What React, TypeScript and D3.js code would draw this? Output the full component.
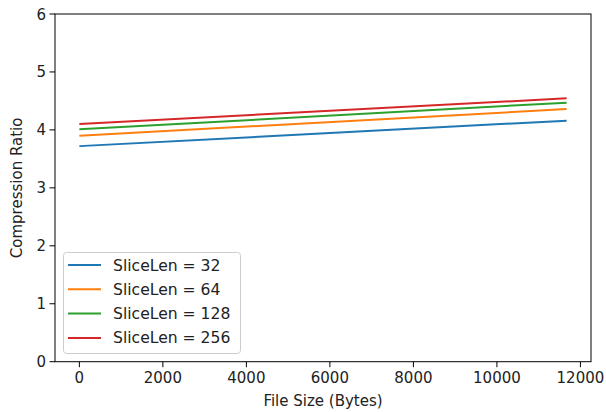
import React from "react";
import * as d3 from "d3";

const fileSizes = [0, 11670];
const sliceLens = [32, 64, 128, 256];
const ratios32 = [3.72, 4.16];
const ratios64 = [3.9, 4.36];
const ratios128 = [4.01, 4.47];
const ratios256 = [4.1, 4.545];
const xTicks = [0, 2000, 4000, 6000, 8000, 10000, 12000];
const yTicks = [0, 1, 2, 3, 4, 5, 6];
const colors = ["#1f77b4", "#ff7f0e", "#2ca02c", "#d62728"];

export default function App() {
  const W = 606, H = 412;
  const L = 55, R = 591, T = 14, B = 361.7;
  const span = 11670;
  const x = d3.scaleLinear().domain([-0.05 * span, span * 1.05]).range([L, R]);
  const y = d3.scaleLinear().domain([0, 6]).range([B, T]);
  const series = [ratios32, ratios64, ratios128, ratios256];
  const line = d3.line<[number, number]>().x(d => x(d[0])).y(d => y(d[1]));
  const font = "DejaVu Sans, sans-serif";
  const fs = 15;
  const lfs = 15.6;
  return (
    <svg width={W} height={H} style={{ position: "absolute", left: 0, top: 0 }} fontFamily={font}>
      <rect width={W} height={H} fill="white" />
      {series.map((s, i) => (
        <path key={i} d={line(fileSizes.map((f, j) => [f, s[j]] as [number, number])) || ""}
          stroke={colors[i]} strokeWidth={2} fill="none" />
      ))}
      <rect x={L} y={T} width={R - L} height={B - T} fill="none" stroke="#000" strokeWidth={1} />
      {xTicks.map(t => (
        <g key={t}>
          <line x1={x(t)} x2={x(t)} y1={B} y2={B + 5.5} stroke="#000" />
          <text x={x(t)} y={B + 21} textAnchor="middle" fontSize={fs} fill="#222">{t}</text>
        </g>
      ))}
      {yTicks.map(t => (
        <g key={t}>
          <line x1={L - 5.5} x2={L} y1={y(t)} y2={y(t)} stroke="#000" />
          <text x={L - 9} y={y(t) + 5.5} textAnchor="end" fontSize={fs} fill="#222">{t}</text>
        </g>
      ))}
      <text x={(L + R) / 2} y={406} textAnchor="middle" fontSize={fs} fill="#222">File Size (Bytes)</text>
      <text transform={`translate(22, ${(T + B) / 2}) rotate(-90)`} textAnchor="middle" fontSize={fs} fill="#222">Compression Ratio</text>
      <rect x={63.5} y={252.5} width={177} height={101} rx={3} fill="white" fillOpacity={0.8} stroke="#ccc" />
      {sliceLens.map((s, i) => {
        const yy = 265 + i * 24.3;
        return (
          <g key={s}>
            <line x1={68} x2={101} y1={yy} y2={yy} stroke={colors[i]} strokeWidth={2} />
            <text x={113} y={yy + 5.5} fontSize={lfs} fill="#222">{`SliceLen = ${s}`}</text>
          </g>
        );
      })}
    </svg>
  );
}
